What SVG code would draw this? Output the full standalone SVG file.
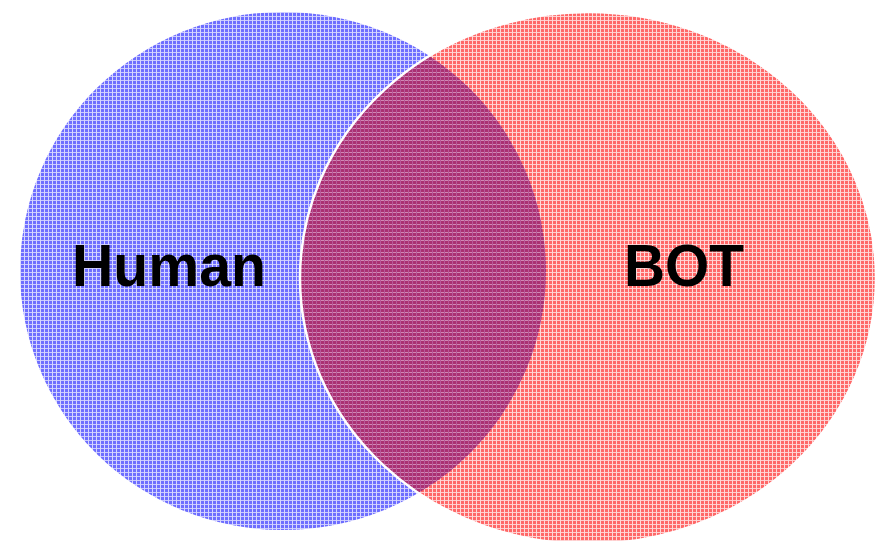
<svg xmlns="http://www.w3.org/2000/svg" width="885" height="541" viewBox="0 0 885 541">
<defs>
<pattern id="pb" width="4" height="4" patternUnits="userSpaceOnUse">
<rect width="4" height="4" fill="#6e6eff"/>
<rect width="4" height="1" fill="#cacaff"/>
<rect width="1" height="4" fill="#d6d6ff"/>
</pattern>
<pattern id="pr" width="4" height="4" patternUnits="userSpaceOnUse">
<rect width="4" height="4" fill="#ff6868"/>
<rect width="4" height="1" fill="#ffcece"/>
<rect width="1" height="4" fill="#ffd8d8"/>
</pattern>
<pattern id="pi" width="4" height="4" patternUnits="userSpaceOnUse">
<rect width="4" height="4" fill="#aa3072"/>
<rect width="4" height="1" fill="#d088b4"/>
<rect width="1" height="4" fill="#b8589a"/>
</pattern>
<clipPath id="cb"><ellipse cx="283" cy="271" rx="263" ry="259"/></clipPath>
</defs>
<style>
.lbl{font-family:"Liberation Sans",Arial,sans-serif;font-weight:bold;font-size:59px;fill:#000}
</style>
<g id="human">
<ellipse cx="283" cy="271" rx="263" ry="259" fill="url(#pb)"/>
</g>
<g id="bot">
<ellipse cx="588" cy="278" rx="288" ry="266" fill="url(#pr)"/>
</g>
<g id="overlap">
<ellipse cx="588" cy="278" rx="288" ry="266" fill="url(#pi)" clip-path="url(#cb)"/>
<ellipse cx="588" cy="278" rx="288" ry="266" fill="none" stroke="#fff" stroke-width="2.5"/>
</g>
<g id="labels">
<text class="lbl" x="72" y="286" textLength="194" lengthAdjust="spacingAndGlyphs">Human</text>
<text class="lbl" x="624" y="286" textLength="120" lengthAdjust="spacingAndGlyphs">BOT</text>
</g>
<g id="connectors"/>
</svg>
